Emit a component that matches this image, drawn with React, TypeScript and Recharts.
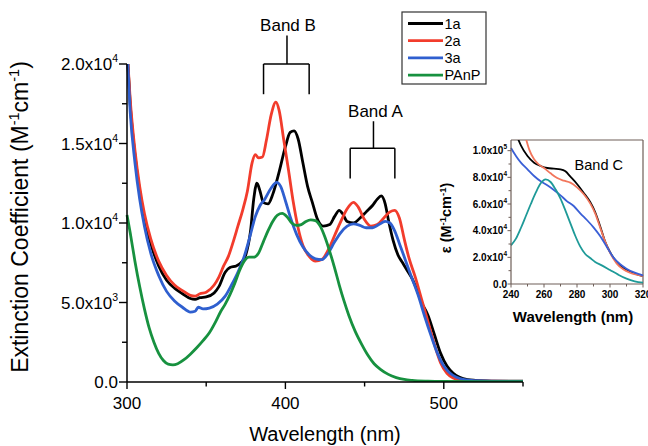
import React from "react";
import { LineChart, Line, XAxis, YAxis, ReferenceLine, ReferenceDot } from "recharts";

const FONT = "'Liberation Sans', Arial, Helvetica, sans-serif";

const seriesNames = ["1a", "2a", "3a", "PAnP"];
const mainColors = ["#000000", "#f23c2c", "#2f5fcf", "#17913f"];
const insetColors = ["#000000", "#f2765c", "#3a5fd6", "#1e9a98"];

// main spectra: wavelength (nm) / extinction coefficient (M-1 cm-1)
const wl1a = [300, 302, 305, 308, 311, 315, 320, 325, 330, 335, 340, 343, 346, 350, 355, 358, 362, 365, 369, 372, 375, 378, 380, 382, 384, 386, 389, 392, 396, 400, 403, 405.5, 408, 411, 414, 417, 420, 424, 428, 431, 434, 436, 439, 443, 447, 451, 455, 458, 460.5, 463, 465, 468, 471, 474, 477, 480, 483, 486, 490, 494, 498, 502, 506, 510, 515, 520, 530, 540, 550];
const eps1a = [21000, 17500, 14300, 12000, 10300, 8700, 7300, 6400, 5900, 5550, 5250, 5200, 5300, 5350, 5600, 6000, 6900, 7200, 7300, 7500, 8000, 9500, 11500, 12500, 12000, 11300, 11200, 11800, 13200, 14800, 15700, 15800, 15300, 13800, 12300, 11300, 10300, 9800, 9900, 10400, 10800, 10600, 10100, 10000, 10300, 10700, 11100, 11500, 11700, 11200, 10200, 8900, 8000, 7500, 7000, 6500, 5800, 5000, 4200, 3000, 1800, 1000, 550, 300, 150, 100, 60, 50, 50];

const wl2a = [300, 302, 305, 308, 311, 315, 320, 325, 330, 335, 340, 343, 346, 350, 355, 358, 361, 364, 367, 370, 373, 376, 379, 381, 383, 385.5, 388, 391, 394, 396, 399, 402, 405, 408, 411, 415, 419, 423, 427, 431, 435, 439, 443, 446, 450, 454, 458, 462, 466, 469, 472, 475, 478, 482, 486, 490, 494, 498, 502, 506, 510, 520, 530, 550];
const eps2a = [21000, 17800, 14600, 12300, 10600, 9000, 7600, 6700, 6100, 5750, 5450, 5400, 5550, 5650, 6100, 6600, 7300, 7900, 8800, 9800, 10800, 12000, 13800, 14300, 14100, 14150, 15200, 16800, 17600, 17100, 15200, 13300, 11300, 9700, 8600, 7900, 7600, 7700, 8300, 9200, 10100, 10900, 11300, 11000, 10200, 9800, 9900, 10300, 10700, 10800, 10300, 9000, 7800, 6600, 5200, 3800, 2400, 1200, 550, 250, 120, 60, 50, 40];

const wl3a = [300, 302, 305, 308, 311, 315, 320, 325, 330, 335, 340, 343, 345, 348, 352, 357, 362, 366, 370, 374, 378, 381, 384, 387, 391, 394.5, 397, 400, 403, 407, 411, 415, 419, 423, 427, 431, 435, 439, 443, 447, 451, 455, 459, 463, 466, 469, 472, 476, 480, 484, 488, 492, 496, 500, 504, 508, 513, 520, 530, 550];
const eps3a = [21000, 17000, 13800, 11500, 9800, 8100, 6700, 5700, 5100, 4700, 4400, 4450, 4700, 4600, 4650, 4900, 5400, 6100, 6900, 7900, 9300, 10400, 11100, 11500, 12200, 12550, 12300, 11400, 10400, 9300, 8500, 8000, 7750, 7700, 8100, 8800, 9400, 9800, 9950, 9850, 9700, 9700, 9900, 10100, 10000, 9500, 8700, 7600, 6500, 5400, 4100, 2900, 1800, 1000, 550, 300, 150, 80, 50, 40];

const wlPAnP = [300, 302, 305, 308, 311, 314, 317, 320, 323, 326, 329, 332, 336, 340, 344, 348, 352, 356, 359, 362, 365, 368, 371, 374, 377, 380, 383, 386, 389, 392, 395, 398, 401, 404, 407, 410, 413, 416, 419, 422, 425, 428, 431, 434, 437, 440, 444, 448, 452, 456, 460, 465, 470, 475, 480, 490, 500, 520, 550];
const epsPAnP = [10500, 9400, 7600, 6000, 4600, 3400, 2500, 1800, 1350, 1120, 1080, 1150, 1400, 1750, 2150, 2600, 3100, 3800, 4400, 4900, 5500, 6200, 7000, 7600, 7850, 7850, 8100, 8800, 9500, 10100, 10500, 10600, 10400, 10000, 9850, 9900, 10100, 10200, 10150, 9800, 9100, 8200, 7200, 6100, 5100, 4200, 3200, 2400, 1700, 1150, 800, 480, 280, 160, 100, 50, 30, 20, 20];

// inset (band C) spectra
const insWl1a = [240, 243, 246, 250, 254, 258, 262, 266, 270, 273, 276, 280, 284, 288, 291, 294, 297, 300, 304, 308, 312, 316, 320];
const insEps1a = [125000, 113000, 104000, 96000, 91000, 88500, 87000, 86500, 86000, 84500, 80500, 75000, 68500, 61500, 54000, 43500, 32000, 24000, 16500, 12000, 9200, 7300, 5800];
const insWl2a = [240, 244, 248, 251, 254, 257, 260, 264, 268, 272, 276, 280, 284, 288, 291, 294, 297, 300, 304, 308, 312, 316, 320];
const insEps2a = [160000, 135000, 114000, 101000, 93500, 89500, 87000, 83000, 79500, 77500, 76000, 72500, 67500, 60500, 53000, 42500, 32000, 23500, 15500, 11000, 8500, 7000, 6000];
const insWl3a = [240, 243, 246, 250, 254, 258, 262, 266, 270, 274, 278, 282, 286, 290, 294, 298, 302, 306, 310, 315, 320];
const insEps3a = [102000, 96000, 91000, 86000, 81000, 77000, 74000, 70500, 66500, 62000, 58500, 53000, 48000, 42500, 36000, 28000, 20000, 15000, 11500, 8500, 6500];
const insWlPAnP = [240, 243, 246, 249, 252, 255, 258, 261, 264, 267, 270, 273, 276, 279, 282, 285, 288, 291, 295, 300, 305, 310, 315, 320];
const insEpsPAnP = [29000, 34000, 42000, 51000, 60000, 68500, 75500, 78500, 76500, 71000, 64000, 55000, 45500, 36000, 28000, 22500, 19500, 16500, 14000, 10500, 7000, 4000, 2000, 1000];

// axis ticks
const mainXTicks = [300, 350, 400, 450, 500, 550];
const mainXLabeled = [300, 400, 500];
const mainYTicks = [0, 2500, 5000, 7500, 10000, 12500, 15000, 17500, 20000];
const mainYMajor = [0, 5000, 10000, 15000, 20000];
const mainYMant = ["0.0", "5.0x10", "1.0x10", "1.5x10", "2.0x10"];
const mainYExp = ["", "3", "4", "4", "4"];

const insXTicks = [240, 250, 260, 270, 280, 290, 300, 310, 320];
const insXLabeled = [240, 260, 280, 300, 320];
const insYTicks = [0, 10000, 20000, 30000, 40000, 50000, 60000, 70000, 80000, 90000, 100000];
const insYMajor = [0, 20000, 40000, 60000, 80000, 100000];
const insYMant = ["0.0", "2.0x10", "4.0x10", "6.0x10", "8.0x10", "1.0x10"];
const insYExp = ["", "4", "4", "4", "4", "5"];

const zip = (xs: number[], ys: number[]) => xs.map((x, i) => ({ x, y: ys[i] }));
const mainSeries = [zip(wl1a, eps1a), zip(wl2a, eps2a), zip(wl3a, eps3a), zip(wlPAnP, epsPAnP)];
const insetSeries = [zip(insWl1a, insEps1a), zip(insWl2a, insEps2a), zip(insWl3a, insEps3a), zip(insWlPAnP, insEpsPAnP)];

const INSET_AXIS = "#6e5e58";

function MainXTick(props: any) {
  const { x, y, payload } = props;
  const major = mainXLabeled.includes(payload.value);
  return (
    <g>
      <line x1={x} x2={x} y1={y} y2={y + (major ? 7 : 4.5)} stroke="#000" strokeWidth={1.4} />
      {major && (
        <text x={x} y={y + 27} textAnchor="middle" fontSize={17} fontFamily={FONT} fill="#000">
          {payload.value}
        </text>
      )}
    </g>
  );
}

function MainYTick(props: any) {
  const { x, y, payload } = props;
  const i = mainYMajor.indexOf(payload.value);
  return (
    <g>
      <line x1={x - (i >= 0 ? 8 : 5)} x2={x} y1={y} y2={y} stroke="#000" strokeWidth={1.4} />
      {i >= 0 && (
        <text x={x - 9} y={y + 6} textAnchor="end" fontSize={17} fontFamily={FONT} fill="#000">
          {mainYMant[i]}
          {mainYExp[i] && (
            <tspan dy={-8} fontSize={10.5}>
              {mainYExp[i]}
            </tspan>
          )}
        </text>
      )}
    </g>
  );
}

function InsXTick(props: any) {
  const { x, y, payload } = props;
  const major = insXLabeled.includes(payload.value);
  return (
    <g>
      <line x1={x} x2={x} y1={y} y2={y + (major ? 3.5 : 2.5)} stroke={INSET_AXIS} strokeWidth={1} />
      {major && (
        <text x={x} y={y + 14} textAnchor="middle" fontSize={10} fontWeight="bold" fontFamily={FONT} fill="#000">
          {payload.value}
        </text>
      )}
    </g>
  );
}

function InsYTick(props: any) {
  const { x, y, payload } = props;
  const i = insYMajor.indexOf(payload.value);
  return (
    <g>
      <line x1={x - (i >= 0 ? 3.5 : 2.5)} x2={x} y1={y} y2={y} stroke={INSET_AXIS} strokeWidth={1} />
      {i >= 0 && (
        <text x={x - 4} y={y + 3.5} textAnchor="end" fontSize={10} fontWeight="bold" fontFamily={FONT} fill="#000">
          {insYMant[i]}
          {insYExp[i] && (
            <tspan dy={-5} fontSize={6.5}>
              {insYExp[i]}
            </tspan>
          )}
        </text>
      )}
    </g>
  );
}

const mainYLabel = (p: any) => {
  const vb = p?.viewBox ?? { x: 0, y: 64, width: 127, height: 318 };
  const x = vb.x + 28;
  const y = vb.y + vb.height / 2 - 6;
  return (
    <text x={x} y={y} transform={`rotate(-90 ${x} ${y})`} textAnchor="middle" fontSize={23} fontFamily={FONT} fill="#000">
      Extinction Coefficient (M<tspan dy={-9} fontSize={14.5}>-1</tspan>
      <tspan dy={9}>cm</tspan>
      <tspan dy={-9} fontSize={14.5}>-1</tspan>
      <tspan dy={9}>)</tspan>
    </text>
  );
};

const mainXLabel = (p: any) => {
  const vb = p?.viewBox ?? { x: 127, y: 382, width: 396, height: 64 };
  return (
    <text x={vb.x + vb.width / 2} y={vb.y + 59} textAnchor="middle" fontSize={20} fontFamily={FONT} fill="#000">
      Wavelength (nm)
    </text>
  );
};

const insYLabel = (p: any) => {
  const vb = p?.viewBox ?? { x: 0, y: 10, width: 81, height: 144 };
  const x = vb.x + 21;
  const y = vb.y + 78;
  return (
    <text x={x} y={y} transform={`rotate(-90 ${x} ${y})`} textAnchor="middle" fontSize={14.5} fontWeight="bold" fontFamily={FONT} fill="#000">
      ε (M<tspan dy={-5.5} fontSize={9.5}>-1</tspan>
      <tspan dy={5.5}>cm</tspan>
      <tspan dy={-5.5} fontSize={9.5}>-1</tspan>
      <tspan dy={5.5}>)</tspan>
    </text>
  );
};

const insXLabel = (p: any) => {
  const vb = p?.viewBox ?? { x: 81, y: 154, width: 132, height: 46 };
  return (
    <text x={vb.x + vb.width / 2 - 4} y={vb.y + 38} textAnchor="middle" fontSize={15} fontWeight="bold" fontFamily={FONT} fill="#000">
      Wavelength (nm)
    </text>
  );
};

const bandText = (text: string, dx: number, size: number) => (p: any) => {
  const vb = p?.viewBox;
  if (!vb) return null;
  return (
    <text x={vb.x + vb.width / 2 + dx} y={vb.y - 4} textAnchor="middle" fontSize={size} fontFamily={FONT} fill="#000">
      {text}
    </text>
  );
};

// bracket geometry in data units
const bandB = { left: 386.2, right: 415, center: 401, top: 20000, legEnd: 18100, stemTop: 21800 };
const bandA = { left: 440.9, right: 469.1, center: 455.6, top: 14700, legEnd: 12800, stemTop: 16400 };

function Bracket(b: typeof bandB, label: string, dx: number) {
  const common = { stroke: "#000", strokeWidth: 1.5, ifOverflow: "visible" as const };
  return [
    <ReferenceLine key={label + "h"} {...common} segment={[{ x: b.left, y: b.top }, { x: b.right, y: b.top }]} />,
    <ReferenceLine key={label + "l"} {...common} segment={[{ x: b.left, y: b.top }, { x: b.left, y: b.legEnd }]} />,
    <ReferenceLine key={label + "r"} {...common} segment={[{ x: b.right, y: b.top }, { x: b.right, y: b.legEnd }]} />,
    <ReferenceLine
      key={label + "s"}
      {...common}
      segment={[{ x: b.center, y: b.top }, { x: b.center, y: b.stemTop }]}
      label={bandText(label, dx, 17)}
    />,
  ];
}

function LegendBox() {
  return (
    <svg width={648} height={446} style={{ position: "absolute", left: 0, top: 0, pointerEvents: "none" }}>
      <rect x={402} y={12} width={84} height={72} fill="#fff" stroke="#333" strokeWidth={1.2} />
      {seriesNames.map((n, i) => {
        const cy = 23.5 + i * 17.2;
        return (
          <g key={n}>
            <line x1={408} x2={443} y1={cy} y2={cy} stroke={mainColors[i]} strokeWidth={2.8} />
            <text x={444.5} y={cy + 5} fontSize={14.5} fontFamily={FONT} fill="#000">
              {n}
            </text>
          </g>
        );
      })}
    </svg>
  );
}

export default function App() {
  return (
    <div style={{ position: "absolute", left: 0, top: 0, width: 648, height: 446, background: "#fff", fontFamily: FONT }}>
      <div style={{ position: "absolute", left: 0, top: 0 }}>
        <LineChart width={648} height={446} margin={{ top: 64, right: 125, bottom: 0, left: 0 }}>
          <XAxis
            type="number"
            dataKey="x"
            domain={[300, 550]}
            ticks={mainXTicks}
            interval={0}
            height={64}
            tickSize={0}
            tickMargin={0}
            tickLine={false}
            tick={<MainXTick />}
            axisLine={{ stroke: "#000", strokeWidth: 1.5 }}
            label={mainXLabel}
          />
          <YAxis
            type="number"
            dataKey="y"
            domain={[0, 20000]}
            allowDataOverflow
            ticks={mainYTicks}
            interval={0}
            width={127}
            tickSize={0}
            tickMargin={0}
            tickLine={false}
            tick={<MainYTick />}
            axisLine={{ stroke: "#000", strokeWidth: 1.5 }}
            label={mainYLabel}
          />
          {Bracket(bandB, "Band B", 1)}
          {Bracket(bandA, "Band A", 2)}
          {mainSeries.map((d, i) => (
            <Line
              key={seriesNames[i]}
              data={d}
              dataKey="y"
              name={seriesNames[i]}
              type="monotone"
              stroke={mainColors[i]}
              strokeWidth={2.8}
              dot={false}
              activeDot={false}
              isAnimationActive={false}
            />
          ))}
        </LineChart>
      </div>
      <LegendBox />
      <div style={{ position: "absolute", left: 430, top: 130 }}>
        <LineChart width={218} height={200} margin={{ top: 10, right: 5, bottom: 0, left: 0 }}>
          <XAxis
            type="number"
            dataKey="x"
            domain={[240, 320]}
            ticks={insXTicks}
            interval={0}
            height={46}
            tickSize={0}
            tickMargin={0}
            tickLine={false}
            tick={<InsXTick />}
            axisLine={{ stroke: INSET_AXIS, strokeWidth: 1.2 }}
            label={insXLabel}
          />
          <YAxis
            type="number"
            dataKey="y"
            domain={[0, 108000]}
            allowDataOverflow
            ticks={insYTicks}
            interval={0}
            width={81}
            tickSize={0}
            tickMargin={0}
            tickLine={false}
            tick={<InsYTick />}
            axisLine={{ stroke: INSET_AXIS, strokeWidth: 1.2 }}
            label={insYLabel}
          />
          <ReferenceLine y={108000} stroke={INSET_AXIS} strokeWidth={1.2} />
          <ReferenceLine x={320} stroke={INSET_AXIS} strokeWidth={1.2} />
          <ReferenceDot
            x={293.2}
            y={85500}
            r={0}
            fill="none"
            stroke="none"
            label={(p: any) => {
              const vb = p?.viewBox;
              if (!vb) return null;
              return (
                <text x={vb.x + vb.width / 2} y={vb.y + vb.height / 2} textAnchor="middle" fontSize={14.5} fontFamily={FONT} fill="#000">
                  Band C
                </text>
              );
            }}
          />
          {insetSeries.map((d, i) => (
            <Line
              key={seriesNames[i]}
              data={d}
              dataKey="y"
              name={seriesNames[i]}
              type="monotone"
              stroke={insetColors[i]}
              strokeWidth={1.8}
              dot={false}
              activeDot={false}
              isAnimationActive={false}
            />
          ))}
        </LineChart>
      </div>
    </div>
  );
}
